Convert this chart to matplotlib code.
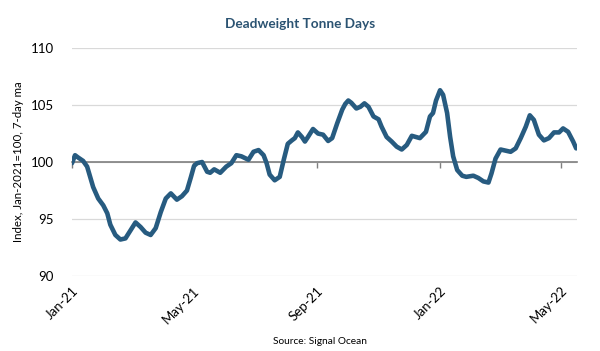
import numpy as np
import pandas as pd
import matplotlib
matplotlib.use('Agg')
import matplotlib.pyplot as plt
import matplotlib.dates as mdates

# Deadweight tonne days index, 7-day ma
start = pd.Timestamp('2021-01-01')
day_offsets = [0, 3, 6, 11, 15, 18, 21, 26, 31, 35, 38, 43, 48, 53, 58, 63, 68, 73, 78, 83,
               88, 93, 98, 104, 109, 114, 118, 121, 124, 129, 134, 137, 141, 147, 153, 158,
               163, 168, 175, 180, 185, 190, 193, 196, 201, 206, 210, 214, 218, 221, 224,
               228, 231, 234, 239, 244, 249, 254, 258, 263, 268, 271, 274, 277, 282, 286,
               290, 294, 299, 304, 307, 312, 317, 322, 327, 332, 337, 341, 345, 351, 355,
               358, 361, 365, 368, 372, 375, 378, 382, 387, 391, 398, 403, 408, 413, 416,
               420, 425, 430, 435, 440, 445, 450, 454, 458, 463, 468, 473, 478, 483, 487,
               492, 497, 500]
index_values = [99.9, 100.6, 100.4, 100.1, 99.6, 98.7, 97.8, 96.8, 96.2, 95.5, 94.5, 93.6,
                93.2, 93.3, 94.0, 94.7, 94.3, 93.8, 93.6, 94.2, 95.6, 96.8, 97.25, 96.7, 97.0,
                97.5, 98.7, 99.65, 99.9, 100.0, 99.15, 99.06, 99.36, 99.06, 99.6, 99.9, 100.6,
                100.5, 100.2, 100.9, 101.05, 100.6, 99.9, 98.9, 98.4, 98.7, 100.2, 101.6,
                101.9, 102.1, 102.6, 102.2, 101.8, 102.2, 102.9, 102.5, 102.4, 101.85, 102.1,
                103.4, 104.6, 105.1, 105.4, 105.2, 104.7, 104.85, 105.15, 104.85, 104.0,
                103.75, 103.1, 102.2, 101.8, 101.35, 101.1, 101.5, 102.3, 102.2, 102.1,
                102.65, 104.0, 104.3, 105.4, 106.3, 105.9, 104.3, 102.2, 100.5, 99.3, 98.8,
                98.7, 98.8, 98.6, 98.3, 98.2, 99.0, 100.3, 101.1, 101.0, 100.9, 101.2, 102.1,
                103.1, 104.1, 103.7, 102.4, 101.9, 102.1, 102.6, 102.6, 102.95, 102.65,
                101.8, 101.2]
tick_dates = ['2021-01-01', '2021-05-01', '2021-09-01', '2022-01-01', '2022-05-01']
tick_labels = ['Jan-21', 'May-21', 'Sep-21', 'Jan-22', 'May-22']

dates = start + pd.to_timedelta(day_offsets, unit='D')

plt.rcParams['font.family'] = ['Lato', 'DejaVu Sans']

fig = plt.figure(figsize=(6, 3.51), dpi=100)
ax = fig.add_axes([0.12, 0.2137, 0.842, 0.6493])

ax.plot(dates, index_values, color='#275b80', lw=3.3, solid_capstyle='round',
        solid_joinstyle='round', zorder=3)

ax.set_ylim(90, 110)
ax.set_yticks([90, 95, 100, 105, 110])
ax.set_xlim(start, start + pd.Timedelta(days=501))
ax.yaxis.grid(True, color='#d9d9d9', lw=0.9)
ax.set_axisbelow(True)
ax.tick_params(axis='y', length=0, pad=13, labelsize=9.5, labelcolor='#000000')

# x axis line sits at 100
for s in ['top', 'right', 'left']:
    ax.spines[s].set_visible(False)
ax.spines['bottom'].set_position(('data', 100))
ax.spines['bottom'].set_color('#7f7f7f')
ax.spines['bottom'].set_linewidth(1.2)
ax.spines['bottom'].set_zorder(2)
ax.set_xticks(pd.to_datetime(tick_dates))
ax.tick_params(axis='x', direction='out', length=4, width=1, color='#7f7f7f',
               labelbottom=False)

# labels at the bottom of the plot
sec = ax.secondary_xaxis(0)
sec.set_xticks(pd.to_datetime(tick_dates))
sec.set_xticklabels(tick_labels)
sec.spines['bottom'].set_visible(False)
sec.tick_params(axis='x', length=0, pad=6, labelsize=9.5)
for lab in sec.get_xticklabels():
    lab.set_rotation(45)
    lab.set_ha('right')
    lab.set_rotation_mode('anchor')

ax.set_ylabel('Index, Jan-2021=100, 7-day ma', fontsize=8.3, labelpad=5)

fig.text(0.5, 0.932, 'Deadweight Tonne Days', ha='center', va='center',
         fontsize=9.8, fontweight='bold', color='#2b5372')
fig.text(0.533, 0.028, 'Source: Signal Ocean', ha='center', va='center', fontsize=7.3)

fig.savefig('out.png', dpi=100)
